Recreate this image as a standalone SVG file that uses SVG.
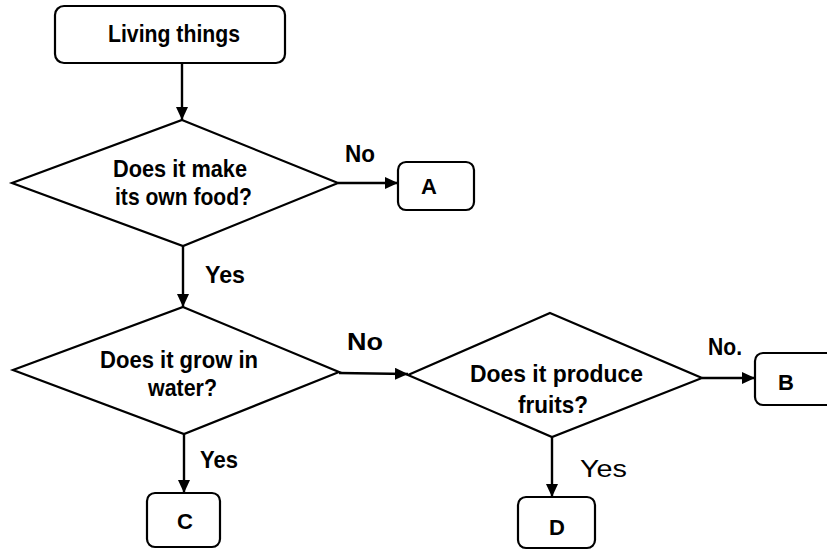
<svg xmlns="http://www.w3.org/2000/svg" width="827" height="551" viewBox="0 0 827 551">
<style>
.box{fill:#fff;stroke:#000;stroke-width:2.2}
.dia{fill:#fff;stroke:#000;stroke-width:2.2;stroke-linejoin:miter}
.con{fill:none;stroke:#000;stroke-width:2.4;marker-end:url(#arr)}
text{font-family:"Liberation Sans",Arial,sans-serif;font-weight:bold;font-size:24px;fill:#000}
text.let{font-size:22px;text-anchor:middle}
text.thin{font-weight:normal}
</style>
<defs>
<marker id="arr" markerUnits="userSpaceOnUse" markerWidth="14" markerHeight="12" refX="13" refY="6" orient="auto">
<path d="M0,0 L13,6 L0,12 Z" fill="#000"/>
</marker>
</defs>
<rect width="827" height="551" fill="#fff"/>
<g id="connectors">
<line class="con" x1="182" y1="63" x2="182" y2="120"/>
<line class="con" x1="338" y1="183" x2="398" y2="183"/>
<line class="con" x1="183" y1="246" x2="183" y2="307"/>
<line class="con" x1="339" y1="373" x2="408" y2="374"/>
<line class="con" x1="184" y1="434" x2="184" y2="493"/>
<line class="con" x1="702" y1="378" x2="755" y2="378"/>
<line class="con" x1="552" y1="437" x2="552" y2="497"/>
</g>
<g id="living-things">
<rect class="box" x="55" y="6" width="230" height="57" rx="9"/>
<text x="108" y="42" textLength="132" lengthAdjust="spacingAndGlyphs">Living things</text>
</g>
<g id="q-food">
<polygon class="dia" points="182,120 338,183 183,246 12,183"/>
<text x="113" y="177" textLength="134" lengthAdjust="spacingAndGlyphs">Does it make</text>
<text x="115" y="205" textLength="137" lengthAdjust="spacingAndGlyphs">its own food?</text>
</g>
<g id="node-a">
<rect class="box" x="398" y="162" width="76" height="48" rx="8"/>
<text class="let" x="429" y="194">A</text>
</g>
<g id="q-water">
<polygon class="dia" points="183,307 339,372 184,434 13,370"/>
<text x="100" y="368" textLength="158" lengthAdjust="spacingAndGlyphs">Does it grow in</text>
<text x="148" y="396" textLength="69" lengthAdjust="spacingAndGlyphs">water?</text>
</g>
<g id="node-c">
<rect class="box" x="147" y="493" width="73" height="54" rx="8"/>
<text class="let" x="185" y="529">C</text>
</g>
<g id="q-fruits">
<polygon class="dia" points="550,313 702,378 552,437 408,375"/>
<text x="470" y="382" textLength="173" lengthAdjust="spacingAndGlyphs">Does it produce</text>
<text x="518" y="413" textLength="70" lengthAdjust="spacingAndGlyphs">fruits?</text>
</g>
<g id="node-b">
<rect class="box" x="755" y="353" width="90" height="52" rx="8"/>
<text class="let" x="786" y="390">B</text>
</g>
<g id="node-d">
<rect class="box" x="518" y="497" width="77" height="51" rx="8"/>
<text class="let" x="557" y="535">D</text>
</g>
<g id="labels">
<text x="345" y="162" textLength="30" lengthAdjust="spacingAndGlyphs">No</text>
<text x="205" y="283" textLength="40" lengthAdjust="spacingAndGlyphs">Yes</text>
<text x="347" y="350" textLength="36" lengthAdjust="spacingAndGlyphs">No</text>
<text x="200" y="468" textLength="38" lengthAdjust="spacingAndGlyphs">Yes</text>
<text x="708" y="355" textLength="34" lengthAdjust="spacingAndGlyphs">No.</text>
<text class="thin" x="580" y="477" textLength="47" lengthAdjust="spacingAndGlyphs">Yes</text>
</g>
</svg>
